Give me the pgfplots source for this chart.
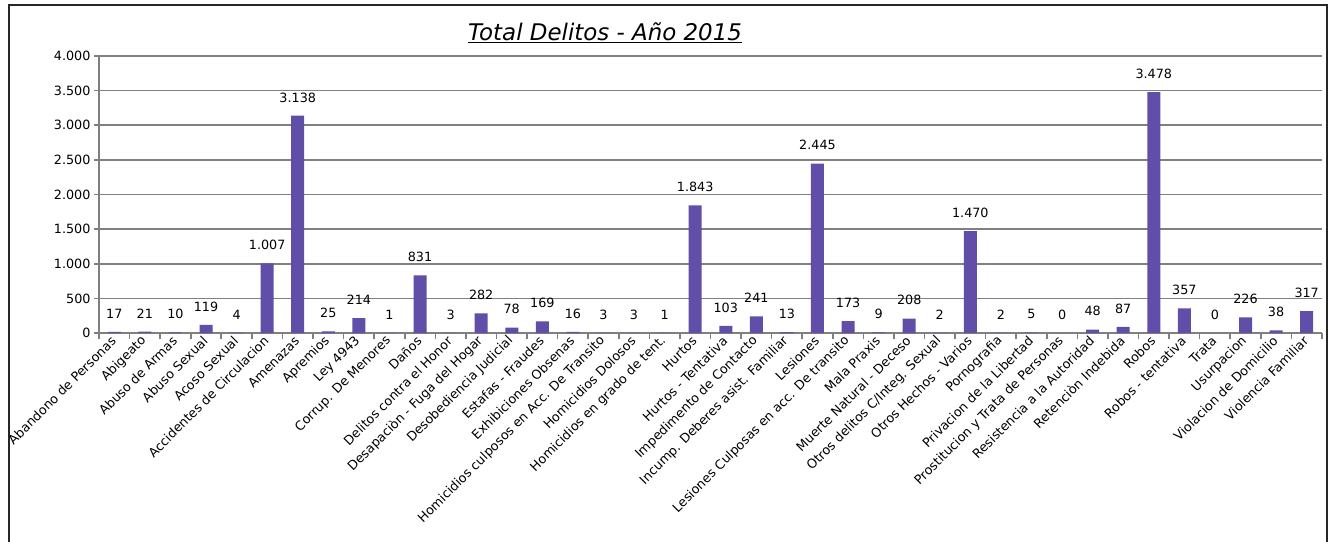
\documentclass[border=0pt]{standalone}
\usepackage{fontspec}
\setmainfont{DejaVu Sans}
\usepackage{pgfplots}
\pgfplotsset{compat=1.18}
\definecolor{barc}{RGB}{96,78,168}
\definecolor{axc}{RGB}{128,128,128}

\begin{document}
\begin{tikzpicture}
\useasboundingbox (0,0) rectangle (1335bp,-542bp);
\draw[line width=2bp, black!85] (9bp,-5bp) rectangle (1327bp,-600bp);
\node[font=\fontsize{23}{26}\selectfont\itshape, anchor=base] at (605bp,-40bp) {\underline{Total Delitos - Año 2015}};
\begin{axis}[
  at={(99bp,-333bp)}, anchor=south west,
  width=1223bp, height=277bp, scale only axis,
  xmin=-0.5, xmax=39.5, ymin=0, ymax=4000,
  ybar, bar width=13bp,
  axis x line*=bottom, axis y line*=left,
  axis line style={-, axc, line width=1.6bp},
  ytick={0,500,...,4000},
  ymajorgrids, grid style={axc, line width=1.6bp},
  tick align=outside,
  major tick length=5bp, minor tick length=6bp,
  tick style={axc, line width=1.6bp},
  major x tick style={draw=none},
  xtick={0,...,39},
  minor xtick={-0.5,0.5,...,39.5},
  xticklabels={{Abandono de Personas},{Abigeato},{Abuso de Armas},{Abuso Sexual},{Acoso Sexual},{Accidentes de Circulacion},{Amenazas},{Apremios},{Ley 4943},{Corrup. De Menores},{Daños},{Delitos contra el Honor},{Desapaciòn - Fuga del Hogar},{Desobediencia Judicial},{Estafas - Fraudes},{Exhibiciones Obsenas},{Homicidios culposos en Acc. De Transito},{Homicidios Dolosos},{Homicidios en grado de tent.},{Hurtos},{Hurtos - Tentativa},{Impedimento de Contacto},{Incump. Deberes asist. Familiar},{Lesiones},{Lesiones Culposas en acc. De transito},{Mala Praxis},{Muerte Natural - Deceso},{Otros delitos C/Integ. Sexual},{Otros Hechos - Varios},{Pornografia},{Privacion de la Libertad},{Prostitucion y Trata de Personas},{Resistencia a la Autoridad},{Retenciòn Indebida},{Robos},{Robos - tentativa},{Trata},{Usurpacion},{Violacion de Domicilio},{Violencia Familiar}},
  ticklabel style={font=\fontsize{12.8}{14}\selectfont, black},
  x tick label style={rotate=45, anchor=east, inner sep=1bp},
  /pgf/number format/assume math mode=true,
  /pgf/number format/1000 sep={.},
  nodes near coords,
  every node near coord/.append style={font=\fontsize{12.8}{14}\selectfont, black, yshift=10bp},
  clip=false,
]
\addplot[fill=barc, draw=none] coordinates {
  (0,17) (1,21) (2,10) (3,119) (4,4) (5,1007) (6,3138) (7,25) (8,214) (9,1)
  (10,831) (11,3) (12,282) (13,78) (14,169) (15,16) (16,3) (17,3) (18,1) (19,1843)
  (20,103) (21,241) (22,13) (23,2445) (24,173) (25,9) (26,208) (27,2) (28,1470) (29,2)
  (30,5) (31,0) (32,48) (33,87) (34,3478) (35,357) (36,0) (37,226) (38,38) (39,317)
};
\end{axis}
\end{tikzpicture}
\end{document}
